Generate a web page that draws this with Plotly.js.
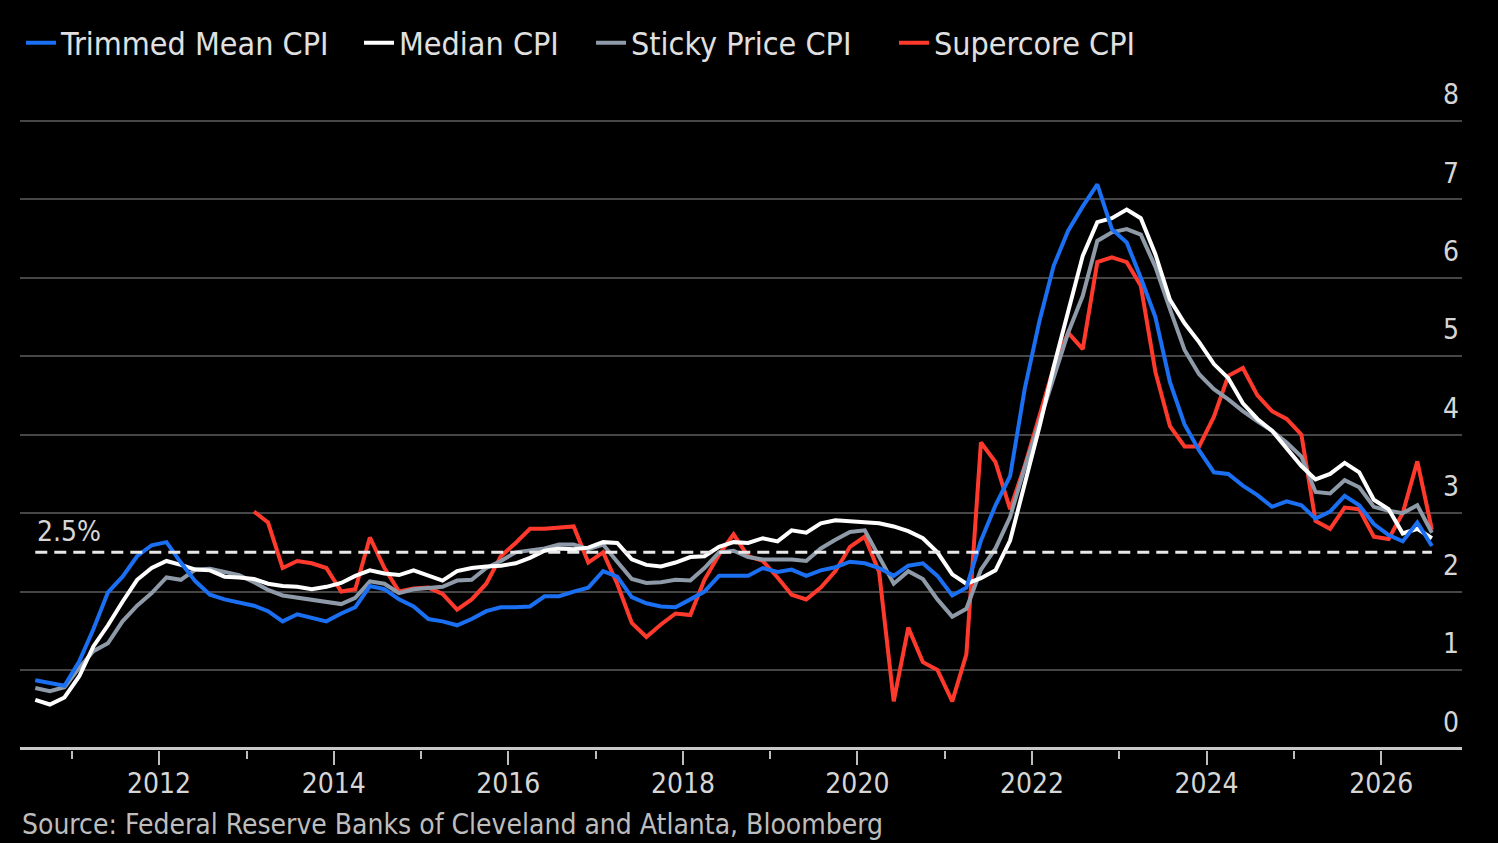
<!DOCTYPE html>
<html>
<head>
<meta charset="utf-8">
<script src="https://cdn.plot.ly/plotly-3.0.1.min.js"></script>
<style>
  html, body { margin: 0; padding: 0; background: #000; }
  #chart { width: 1498px; height: 843px; }
</style>
</head>
<body>
<div id="chart"></div>
<script>
// bi-monthly observations, Aug 2010 .. Aug 2026
var dates = [
  '2010-08','2010-10','2010-12','2011-02','2011-04','2011-06','2011-08','2011-10','2011-12','2012-02',
  '2012-04','2012-06','2012-08','2012-10','2012-12','2013-02','2013-04','2013-06','2013-08','2013-10',
  '2013-12','2014-02','2014-04','2014-06','2014-08','2014-10','2014-12','2015-02','2015-04','2015-06',
  '2015-08','2015-10','2015-12','2016-02','2016-04','2016-06','2016-08','2016-10','2016-12','2017-02',
  '2017-04','2017-06','2017-08','2017-10','2017-12','2018-02','2018-04','2018-06','2018-08','2018-10',
  '2018-12','2019-02','2019-04','2019-06','2019-08','2019-10','2019-12','2020-02','2020-04','2020-06',
  '2020-08','2020-10','2020-12','2021-02','2021-04','2021-06','2021-08','2021-10','2021-12','2022-02',
  '2022-04','2022-06','2022-08','2022-10','2022-12','2023-02','2023-04','2023-06','2023-08','2023-10',
  '2023-12','2024-02','2024-04','2024-06','2024-08','2024-10','2024-12','2025-02','2025-04','2025-06',
  '2025-08','2025-10','2025-12','2026-02','2026-04','2026-06','2026-08'
];

var trimmedMean = [
  0.87,0.84,0.80,1.11,1.52,1.99,2.19,2.45,2.59,2.63,
  2.37,2.13,1.96,1.90,1.86,1.82,1.75,1.62,1.71,1.67,
  1.62,1.72,1.80,2.07,2.03,1.90,1.81,1.65,1.62,1.57,
  1.65,1.75,1.80,1.80,1.81,1.94,1.94,2.00,2.05,2.26,
  2.19,1.93,1.85,1.81,1.80,1.90,2.00,2.20,2.20,2.20,
  2.30,2.25,2.28,2.20,2.27,2.31,2.38,2.36,2.30,2.20,
  2.33,2.36,2.20,1.95,2.05,2.65,3.10,3.47,4.58,5.45,
  6.15,6.60,6.91,7.19,6.62,6.45,6.00,5.50,4.67,4.13,
  3.80,3.52,3.50,3.35,3.23,3.08,3.15,3.10,2.93,3.02,
  3.22,3.10,2.86,2.72,2.64,2.88,2.58
];

var medianCpi = [
  0.62,0.56,0.65,0.92,1.30,1.57,1.87,2.15,2.30,2.39,
  2.34,2.28,2.27,2.19,2.18,2.16,2.10,2.07,2.06,2.03,
  2.06,2.11,2.20,2.27,2.23,2.21,2.27,2.20,2.14,2.26,
  2.30,2.32,2.33,2.36,2.43,2.52,2.55,2.54,2.56,2.63,
  2.62,2.41,2.34,2.32,2.37,2.44,2.45,2.57,2.63,2.62,
  2.68,2.64,2.78,2.75,2.87,2.91,2.90,2.89,2.87,2.83,
  2.77,2.68,2.50,2.22,2.10,2.17,2.27,2.65,3.35,4.10,
  4.86,5.55,6.28,6.71,6.76,6.87,6.76,6.30,5.72,5.42,
  5.18,4.90,4.72,4.40,4.20,4.05,3.83,3.60,3.43,3.50,
  3.64,3.52,3.17,3.05,2.74,2.80,2.68
];

var stickyPrice = [
  0.77,0.73,0.78,1.03,1.24,1.34,1.62,1.82,1.98,2.18,
  2.15,2.28,2.29,2.25,2.21,2.12,2.02,1.95,1.92,1.89,
  1.87,1.84,1.92,2.13,2.10,1.98,2.03,2.05,2.06,2.14,
  2.15,2.30,2.39,2.50,2.52,2.55,2.60,2.60,2.54,2.60,
  2.38,2.16,2.11,2.12,2.15,2.14,2.30,2.50,2.52,2.44,
  2.41,2.41,2.41,2.39,2.55,2.66,2.76,2.78,2.45,2.10,
  2.26,2.16,1.90,1.68,1.78,2.28,2.55,2.95,3.58,4.18,
  4.72,5.30,5.77,6.47,6.58,6.62,6.55,6.14,5.60,5.08,
  4.77,4.58,4.45,4.30,4.17,4.05,3.90,3.72,3.27,3.25,
  3.42,3.33,3.08,3.03,3.00,3.10,2.75
];

var supercore = [
  null,null,null,null,null,null,null,null,null,null,
  null,null,null,null,null,3.02,2.88,2.30,2.39,2.36,
  2.30,2.00,2.03,2.69,2.30,2.00,2.04,2.05,1.97,1.77,
  1.90,2.10,2.45,2.62,2.80,2.80,2.82,2.83,2.37,2.50,
  2.10,1.60,1.42,1.58,1.72,1.70,2.15,2.47,2.73,2.45,
  2.39,2.18,1.96,1.90,2.05,2.26,2.57,2.70,2.25,0.60,
  1.54,1.10,1.00,0.60,1.20,3.90,3.65,3.05,3.60,4.25,
  4.85,5.30,5.09,6.20,6.26,6.20,5.90,4.80,4.11,3.85,
  3.85,4.23,4.75,4.85,4.50,4.30,4.20,4.00,2.90,2.80,
  3.07,3.05,2.70,2.67,3.00,3.66,2.79
];

var target = 2.5;
var yTicks = [0, 1, 2, 3, 4, 5, 6, 7, 8];

var font = '"DejaVu Sans Condensed", "DejaVu Sans", sans-serif';

function line(name, y, color, legend) {
  return {
    x: dates, y: y, name: name, legend: legend,
    type: 'scatter', mode: 'lines',
    line: {color: color, width: 4},
    hoverinfo: 'skip'
  };
}

// drawn bottom to top
var traces = [
  line('Supercore CPI', supercore, '#ff3a2d', 'legend4'),
  line('Sticky Price CPI', stickyPrice, '#8e9aa8', 'legend3'),
  line('Median CPI', medianCpi, '#ffffff', 'legend2'),
  line('Trimmed Mean CPI', trimmedMean, '#1a6ff2', 'legend')
];

function legendAt(x) {
  return {
    orientation: 'h',
    x: x, xanchor: 'left', y: 1.0336, yanchor: 'middle',
    font: {family: font, size: 32, color: '#e0e0e0'},
    bgcolor: 'rgba(0,0,0,0)'
  };
}

var layout = {
  width: 1498, height: 843,
  paper_bgcolor: '#000', plot_bgcolor: '#000',
  margin: {l: 20, r: 36, t: 66, b: 93},
  font: {family: font, color: '#d6d6d6', size: 28},
  showlegend: true,
  legend: legendAt(0.0007),
  legend2: legendAt(0.2351),
  legend3: legendAt(0.3960),
  legend4: legendAt(0.6061),
  xaxis: {
    type: 'date',
    range: ['2010-05-29', '2026-12-05'],
    tick0: '2012-01-01', dtick: 'M24',
    tickformat: '%Y',
    ticks: 'outside', ticklen: 14, tickwidth: 2, tickcolor: '#bdbdbd',
    ticklabelstandoff: -6,
    minor: {dtick: 'M12', tick0: '2011-01-01', ticks: 'outside', ticklen: 8, tickwidth: 2, tickcolor: '#bdbdbd', showgrid: false},
    showgrid: false, zeroline: false, showline: false,
    tickfont: {family: font, size: 28, color: '#d6d6d6'},
    fixedrange: true
  },
  yaxis: {
    range: [-0.02, 8.7],
    tickmode: 'array', tickvals: yTicks,
    side: 'right',
    ticklabelposition: 'inside top',
    ticklabelshift: -7,
    ticks: '',
    showgrid: true, gridcolor: '#464646', gridwidth: 2,
    zeroline: true, zerolinecolor: '#c8c8c8', zerolinewidth: 3,
    showline: false,
    tickfont: {family: font, size: 28, color: '#d6d6d6'},
    fixedrange: true
  },
  shapes: [{
    type: 'line', xref: 'x', yref: 'y',
    x0: dates[0], x1: dates[dates.length - 1], y0: target, y1: target,
    line: {color: '#e8e8e8', width: 3, dash: '12px,7px'},
    layer: 'above'
  }],
  annotations: [{
    xref: 'x', yref: 'y', x: dates[0], y: target,
    xanchor: 'left', yanchor: 'bottom', yshift: 2,
    text: '2.5%', showarrow: false,
    font: {family: font, size: 28, color: '#d6d6d6'}
  }, {
    xref: 'paper', yref: 'paper', x: 0, y: -0.136,
    xanchor: 'left', yanchor: 'bottom',
    text: 'Source: Federal Reserve Banks of Cleveland and Atlanta, Bloomberg',
    showarrow: false,
    font: {family: font, size: 28, color: '#bdbdbd'}
  }]
};

Plotly.newPlot('chart', traces, layout, {displayModeBar: false, staticPlot: true});
</script>
</body>
</html>
